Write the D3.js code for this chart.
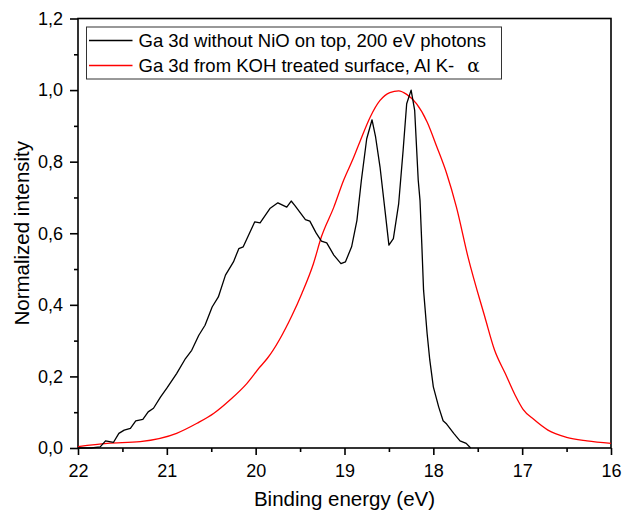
<!DOCTYPE html>
<html>
<head>
<meta charset="utf-8">
<script src="https://cdn.jsdelivr.net/npm/d3@7"></script>
<style>
  body { margin: 0; background: #fff; }
  svg text { font-family: "Liberation Sans", Arial, sans-serif; fill: #000; }
</style>
</head>
<body>
<div id="chart"></div>
<script>
// Ga 3d, black: without NiO on top (200 eV photons)
var energyBlack = [22.0, 21.85, 21.75, 21.69, 21.60, 21.54, 21.48, 21.41, 21.35, 21.27, 21.21, 21.15, 21.07, 21.00,
  20.89, 20.79, 20.72, 20.64, 20.57, 20.49, 20.42, 20.34, 20.25, 20.19, 20.14, 20.01, 19.95, 19.84, 19.75, 19.65,
  19.60, 19.56, 19.44, 19.39, 19.32, 19.26, 19.20, 19.12, 19.04, 18.99, 18.92, 18.86, 18.81, 18.75, 18.69, 18.65,
  18.60, 18.54, 18.50, 18.45, 18.39, 18.34, 18.30, 18.25, 18.21, 18.17, 18.15, 18.13, 18.11, 18.07, 18.04, 18.00,
  17.94, 17.89, 17.85, 17.77, 17.70, 17.63, 17.58];
var intensityBlack = [0.0, 0.0, 0.003, 0.02, 0.016, 0.041, 0.05, 0.055, 0.076, 0.08, 0.101, 0.111, 0.143, 0.167,
  0.208, 0.25, 0.273, 0.315, 0.343, 0.394, 0.422, 0.483, 0.52, 0.557, 0.562, 0.632, 0.629, 0.669, 0.685, 0.673,
  0.69, 0.678, 0.638, 0.634, 0.601, 0.578, 0.573, 0.539, 0.515, 0.52, 0.562, 0.636, 0.748, 0.864, 0.917, 0.869,
  0.785, 0.655, 0.567, 0.585, 0.683, 0.832, 0.962, 1.0, 0.943, 0.748, 0.692, 0.571, 0.441, 0.32, 0.246, 0.171,
  0.115, 0.076, 0.067, 0.041, 0.02, 0.013, 0.0];

// Ga 3d, red: KOH treated surface, Al K-alpha
var energyRed = [22.0, 21.67, 21.30, 20.89, 20.66, 20.47, 20.29, 20.10, 19.95, 19.87, 19.59, 19.48, 19.35, 19.26,
  19.12, 19.01, 18.90, 18.82, 18.71, 18.60, 18.49, 18.39, 18.30, 18.19, 18.07, 17.96, 17.85, 17.74, 17.61, 17.42,
  17.31, 17.19, 17.08, 16.99, 16.87, 16.71, 16.50, 16.27, 16.0];
var intensityRed = [0.004, 0.013, 0.018, 0.041, 0.069, 0.097, 0.134, 0.18, 0.227, 0.25, 0.371, 0.432, 0.515, 0.59,
  0.673, 0.748, 0.81, 0.86, 0.925, 0.971, 0.993, 0.998, 0.988, 0.962, 0.911, 0.841, 0.767, 0.673, 0.534, 0.366,
  0.273, 0.208, 0.148, 0.108, 0.08, 0.05, 0.03, 0.02, 0.013];

var xTicks = [22, 21, 20, 19, 18, 17, 16];
var xMinor = [21.5, 20.5, 19.5, 18.5, 17.5, 16.5];
var yTicks = [0, 0.2, 0.4, 0.6, 0.8, 1.0, 1.2];
var yMinor = [0.1, 0.3, 0.5, 0.7, 0.9, 1.1];

var legendLabels = ["Ga 3d without NiO on top, 200 eV photons", "Ga 3d from KOH treated surface, Al K-"];

var margin = {top: 18.5, right: 11, bottom: 67, left: 78},
  width = 622 - margin.left - margin.right,
  height = 515 - margin.top - margin.bottom;

var svg = d3.select("#chart").append("svg")
  .attr("width", 622)
  .attr("height", 515)
  .append("g")
  .attr("transform", "translate(" + margin.left + "," + margin.top + ")");

var x = d3.scaleLinear().domain([22, 16]).range([0, width]);
var y = d3.scaleLinear().domain([0, 1.2]).range([height, 0]);

var comma = d => d3.format(".1f")(d).replace(".", ",");

// minor ticks
svg.append("g")
  .attr("transform", "translate(0," + height + ")")
  .call(d3.axisBottom(x).tickValues(xMinor).tickSize(4).tickFormat(""));
svg.append("g")
  .call(d3.axisLeft(y).tickValues(yMinor).tickSize(4).tickFormat(""));

var xAxisG = svg.append("g")
  .attr("transform", "translate(0," + height + ")")
  .call(d3.axisBottom(x).tickValues(xTicks).tickSize(7).tickPadding(9).tickFormat(d3.format("d")));
var yAxisG = svg.append("g")
  .call(d3.axisLeft(y).tickValues(yTicks).tickSize(8).tickPadding(7).tickFormat(comma));

xAxisG.selectAll("text").style("font-size", "18px");
yAxisG.selectAll("text").style("font-size", "18px");
svg.selectAll(".domain").remove();
svg.selectAll(".tick line")
  .attr("stroke", "#000")
  .attr("stroke-width", 1.6);

// frame
svg.append("rect")
  .attr("x", 0).attr("y", 0)
  .attr("width", width).attr("height", height)
  .attr("fill", "none")
  .attr("stroke", "#000")
  .attr("stroke-width", 1.6);

var black = energyBlack.map((e, i) => [e, intensityBlack[i]]);
var red = energyRed.map((e, i) => [e, intensityRed[i]]);

var lineLin = d3.line().x(d => x(d[0])).y(d => y(d[1]));
var lineSmooth = d3.line().x(d => x(d[0])).y(d => y(d[1])).curve(d3.curveMonotoneX);

svg.append("path")
  .datum(red)
  .attr("fill", "none")
  .attr("stroke", "#ff0000")
  .attr("stroke-width", 1.3)
  .attr("d", lineSmooth);

svg.append("path")
  .datum(black)
  .attr("fill", "none")
  .attr("stroke", "#000")
  .attr("stroke-width", 1.3)
  .attr("stroke-linejoin", "round")
  .attr("d", lineLin);

// legend
var lg = svg.append("g").attr("transform", "translate(8.5,8.5)");
lg.append("rect")
  .attr("width", 415).attr("height", 52)
  .attr("fill", "#fff")
  .attr("stroke", "#333")
  .attr("stroke-width", 1);
var colors = ["#000", "#ff0000"];
legendLabels.forEach(function(lab, i) {
  var yy = 13.5 + i * 25;
  lg.append("line")
    .attr("x1", 2.5).attr("x2", 46)
    .attr("y1", yy).attr("y2", yy)
    .attr("stroke", colors[i])
    .attr("stroke-width", 1.3);
  var t = lg.append("text")
    .attr("x", 52).attr("y", yy + 6.5)
    .style("font-size", "18.5px")
    .text(lab);
  if (i == 1) {
    t.append("tspan").attr("dx", 13).style("font-family", "'DejaVu Serif', serif").text("\u03b1");
  }
});

// axis titles
svg.append("text")
  .attr("x", width / 2)
  .attr("y", height + 58)
  .attr("text-anchor", "middle")
  .style("font-size", "20.5px")
  .text("Binding energy (eV)");

svg.append("text")
  .attr("transform", "translate(" + (29 - margin.left) + "," + (height / 2) + ") rotate(-90)")
  .attr("text-anchor", "middle")
  .style("font-size", "20.5px")
  .text("Normalized intensity");
</script>
</body>
</html>
